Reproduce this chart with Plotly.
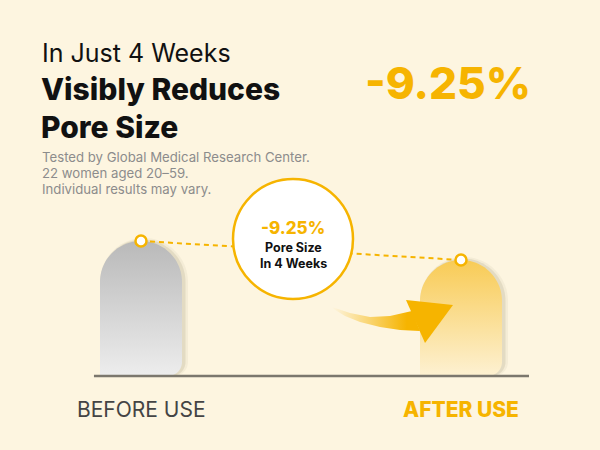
import numpy as np
import plotly.graph_objects as go

# values shown in the chart
categories = ["BEFORE USE", "AFTER USE"]
pore_size = [100.0, 90.75]
change_label = "-9.25%"
headline = ["In Just 4 Weeks", "Visibly Reduces", "Pore Size"]
study_notes = [
    "Tested by Global Medical Research Center.",
    "22 women aged 20–59.",
    "Individual results may vary.",
]
badge_lines = ["Pore Size", "In 4 Weeks"]

BG = "#FDF5E0"
ORANGE = "#F6B400"
FONT = "Inter"
W, H = 600, 450

# page anchors (px) used to set the axis ranges
X_PX = (141, 461)
BASE_VALUE = 34.3
BASE_PX = 376
PX_PER_UNIT = 2.055

x_pos = list(range(len(categories)))
px_per_x = X_PX[1] - X_PX[0]
x_range = [-X_PX[0] / px_per_x, (W - X_PX[0]) / px_per_x]
y_range = [BASE_VALUE - (H - BASE_PX) / PX_PER_UNIT, BASE_VALUE + BASE_PX / PX_PER_UNIT]


def bar_outline(xc, value, half_px=41, corner_px=14, grow_px=0, shift_px=0):
    """Outline of a bar with a round top and a rounded bottom-right corner"""
    hw = (half_px + grow_px) / px_per_x
    ry = (half_px + grow_px) / PX_PER_UNIT
    cx_ = corner_px / px_per_x
    cy_ = corner_px / PX_PER_UNIT
    xc = xc + shift_px / px_per_x
    top = value + grow_px / PX_PER_UNIT
    t = np.linspace(np.pi, 0, 50)
    c = np.linspace(0, -np.pi / 2, 15)
    xs = [xc - hw, *(xc + hw * np.cos(t)), *(xc + hw - cx_ + cx_ * np.cos(c)), xc - hw]
    ys = [BASE_VALUE, *(top - ry + ry * np.sin(t)), *(BASE_VALUE + cy_ + cy_ * np.sin(c)), BASE_VALUE]
    return xs, ys


def px(x, y):
    """page pixel -> paper coords"""
    return x / W, 1 - y / H


fig = go.Figure()

# bars: soft shadow first, then gradient body
gradients = [
    [[0, "#EDEDED"], [1, "#B9B9B9"]],
    [[0, "#FDF1D2"], [1, "#F8CB55"]],
]
for i, v in enumerate(pore_size):
    for grow, shift, alpha in [(3, 3, 0.06), (1.5, 2, 0.12)]:
        sx, sy = bar_outline(x_pos[i], v, grow_px=grow, shift_px=shift)
        fig.add_trace(go.Scatter(x=sx, y=sy, fill="toself", mode="none",
                                 fillcolor=f"rgba(110,95,60,{alpha})", hoverinfo="skip"))
    bx, by = bar_outline(x_pos[i], v)
    fig.add_trace(go.Scatter(
        x=bx, y=by, fill="toself", mode="none", name=categories[i],
        fillgradient=dict(type="vertical", colorscale=gradients[i]),
    ))

# baseline
fig.add_shape(type="line", x0=-0.147, x1=1.2125, y0=BASE_VALUE, y1=BASE_VALUE,
              line=dict(color="#7B776D", width=2.5))

# dotted connector and value dots
fig.add_trace(go.Scatter(x=x_pos, y=pore_size, mode="lines",
                         line=dict(color=ORANGE, width=2, dash="5px,4px")))
fig.add_trace(go.Scatter(x=x_pos, y=pore_size, mode="markers",
                         marker=dict(size=11, color="white", line=dict(color=ORANGE, width=2.5))))

# swoosh arrow on a pixel overlay
body_x = [332, 350, 370, 390, 412, 420, 400, 380, 360, 345, 332]
body_y = [307, 313, 317, 316, 311, 331, 330, 327, 322, 316, 308]
fig.add_trace(go.Scatter(
    x=body_x, y=body_y, xaxis="x2", yaxis="y2", fill="toself", mode="none",
    fillgradient=dict(type="horizontal",
                      colorscale=[[0, "rgba(246,180,0,0)"], [0.85, "rgba(246,180,0,1)"], [1, "rgba(246,180,0,1)"]]),
))
fig.add_trace(go.Scatter(
    x=[406, 453, 425, 406], y=[300, 305, 343, 300], xaxis="x2", yaxis="y2",
    fill="toself", mode="none", fillcolor=ORANGE,
))

# badge circle
x0, y0 = px(233, 299)
x1, y1 = px(353, 179)
fig.add_shape(type="circle", xref="paper", yref="paper", x0=x0, x1=x1, y0=y0, y1=y1,
              fillcolor="white", line=dict(color=ORANGE, width=2.5), layer="above")

annotations = []


def add_text(text, x, y, size, color, weight=400, anchor="left"):
    ax, ay = px(x, y)
    annotations.append(dict(
        text=text, x=ax, y=ay, xref="paper", yref="paper",
        xanchor=anchor, yanchor="middle", showarrow=False,
        font=dict(family=FONT, size=size, color=color, weight=weight),
    ))


add_text(headline[0], 40, 53, 25, "#111111")
add_text(headline[1], 39, 89, 30, "#111111", weight=800)
add_text(headline[2], 39, 127, 30, "#111111", weight=800)
for k, note in enumerate(study_notes):
    add_text(note, 40, 157 + 16 * k, 13.2, "#8C8C8C")
add_text(change_label, 448, 83, 44, ORANGE, weight=800, anchor="center")

add_text(change_label, 293, 228, 17, ORANGE, weight=800, anchor="center")
add_text(badge_lines[0], 293, 247, 12.5, "#111111", weight=700, anchor="center")
add_text(badge_lines[1], 293, 263, 12.5, "#111111", weight=700, anchor="center")

# category labels under each bar
for i, cat in enumerate(categories):
    annotations.append(dict(
        text=cat, x=x_pos[i], y=px(0, 409)[1],
        xref="x", yref="paper", xanchor="center", yanchor="middle", showarrow=False,
        font=dict(family=FONT, size=21, color=ORANGE if i == 1 else "#444444",
                  weight=800 if i == 1 else 400),
    ))

fig.update_layout(
    width=W, height=H, margin=dict(l=0, r=0, t=0, b=0),
    paper_bgcolor=BG, plot_bgcolor=BG, showlegend=False,
    xaxis=dict(range=x_range, visible=False, fixedrange=True),
    yaxis=dict(range=y_range, visible=False, fixedrange=True),
    xaxis2=dict(range=[0, W], overlaying="x", visible=False),
    yaxis2=dict(range=[H, 0], overlaying="y", visible=False),
    annotations=annotations,
)

# drop the default page margin so the figure fills the window
fig.write_html("out.html", config={"displayModeBar": False},
               post_script="document.body.style.margin='0';")
